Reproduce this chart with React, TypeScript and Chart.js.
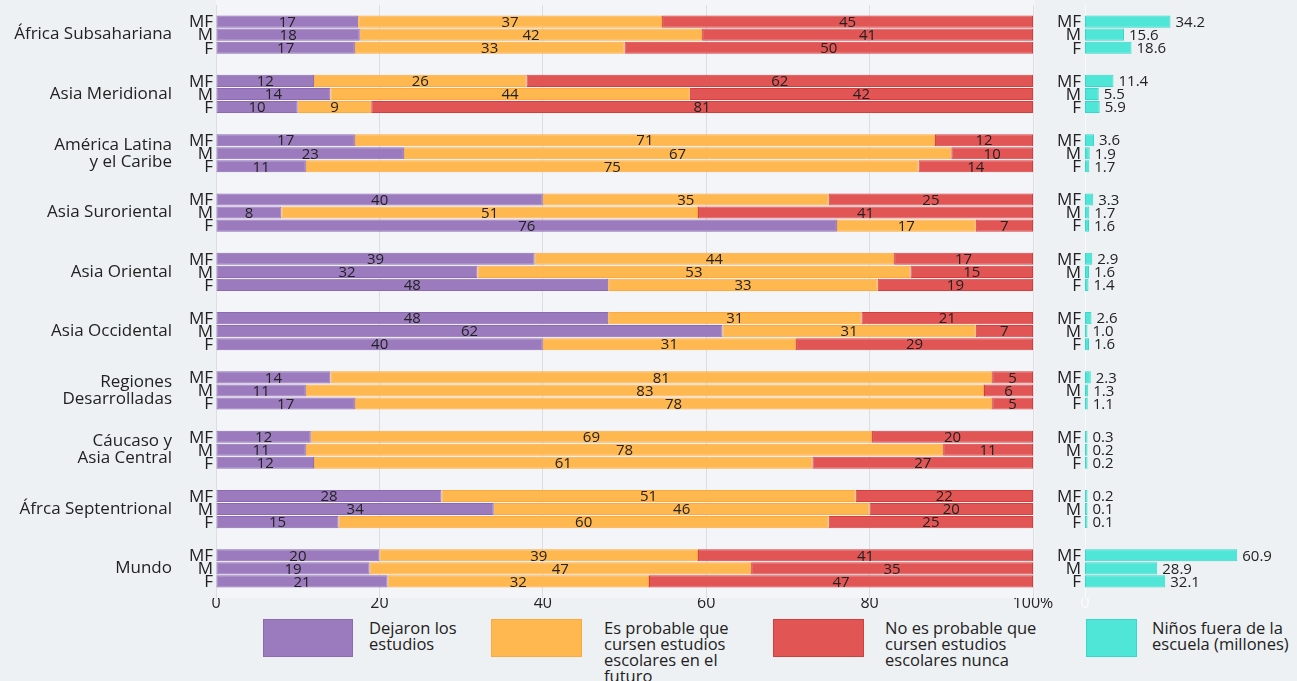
import React, { useEffect, useRef } from 'react';
import { Chart, registerables } from 'chart.js';

Chart.register(...registerables);

const regions: string[][] = [
  ['África Subsahariana'],
  ['Asia Meridional'],
  ['América Latina', 'y el Caribe'],
  ['Asia Suroriental'],
  ['Asia Oriental'],
  ['Asia Occidental'],
  ['Regiones', 'Desarrolladas'],
  ['Cáucaso y', 'Asia Central'],
  ['Áfrca Septentrional'],
  ['Mundo'],
];

const dejaronMF = [17.4, 12, 17, 40, 39, 48, 14, 11.6, 27.6, 20];
const dejaronM = [17.6, 14, 23, 8, 32, 62, 11, 11, 34, 18.8];
const dejaronF = [17, 10, 11, 76, 48, 40, 17, 12, 15, 21];
const futuroMF = [37.2, 26, 71, 35, 44, 31, 81, 68.7, 50.7, 39];
const futuroM = [41.9, 44, 67, 51, 53, 31, 83, 78, 46, 46.7];
const futuroF = [33, 9, 75, 17, 33, 31, 78, 61, 60, 32];
const nuncaMF = [45.4, 62, 12, 25, 17, 21, 5, 19.7, 21.7, 41];
const nuncaM = [40.5, 42, 10, 41, 15, 7, 6, 11, 20, 34.5];
const nuncaF = [50, 81, 14, 7, 19, 29, 5, 27, 25, 47];
const fueraMF = [34.2, 11.4, 3.6, 3.3, 2.9, 2.6, 2.3, 0.3, 0.2, 60.9];
const fueraM = [15.6, 5.5, 1.9, 1.7, 1.6, 1.0, 1.3, 0.2, 0.1, 28.9];
const fueraF = [18.6, 5.9, 1.7, 1.6, 1.4, 1.6, 1.1, 0.2, 0.1, 32.1];
const pctTicks = [0, 20, 40, 60, 80, 100];

const legendItems = [
  { lines: ['Dejaron los', 'estudios'], fill: '#9b7bbd', border: '#8b6ab4', boxLeft: 263, boxW: 90, textLeft: 369 },
  { lines: ['Es probable que', 'cursen estudios', 'escolares en el', 'futuro'], fill: '#ffb74f', border: '#ffa83c', boxLeft: 491, boxW: 91, textLeft: 604 },
  { lines: ['No es probable que', 'cursen estudios', 'escolares nunca'], fill: '#e25555', border: '#d63e3e', boxLeft: 773, boxW: 91, textLeft: 885 },
  { lines: ['Niños fuera de la', 'escuela (millones)'], fill: '#50e6d7', border: '#36d9c9', boxLeft: 1086, boxW: 51, textLeft: 1152 },
];

const FONT = '"Open Sans", "Noto Sans", sans-serif';
const TEXT = '#222';
const PURPLE = ['#9b7bbd', '#8b6ab4'];
const ORANGE = ['#ffb74f', '#ffa83c'];
const RED = ['#e25555', '#d63e3e'];
const TURQ = ['#50e6d7', '#36d9c9'];

const catPct = 0.66;
const barPct = 0.93;

const plotBg = {
  id: 'plotBg',
  beforeDraw(chart: any) {
    const { ctx, chartArea } = chart;
    ctx.save();
    ctx.fillStyle = '#f4f5f9';
    ctx.fillRect(chartArea.left, 0, chartArea.right - chartArea.left + 2, chartArea.bottom);
    ctx.restore();
  },
};

const leftLabels = {
  id: 'leftLabels',
  afterDatasetsDraw(chart: any) {
    const ctx = chart.ctx;
    ctx.save();
    ctx.fillStyle = TEXT;
    ctx.textBaseline = 'middle';
    ctx.textAlign = 'center';
    ctx.font = `15px ${FONT}`;
    chart.data.datasets.forEach((ds: any, i: number) => {
      const meta = chart.getDatasetMeta(i);
      meta.data.forEach((bar: any, j: number) => {
        const { x, base, y } = bar.getProps(['x', 'base', 'y'], true);
        ctx.fillText(String(Math.round(ds.data[j])), (x + base) / 2, y + 1);
      });
    });
    ctx.textAlign = 'right';
    ctx.font = `17px ${FONT}`;
    chart.data.datasets.forEach((ds: any, i: number) => {
      if (ds.segment !== 0) return;
      const meta = chart.getDatasetMeta(i);
      meta.data.forEach((bar: any) => {
        ctx.fillText(ds.stack, chart.chartArea.left - 3, bar.y + 1);
      });
    });
    ctx.restore();
  },
};

const rightLabels = {
  id: 'rightLabels',
  afterDatasetsDraw(chart: any) {
    const ctx = chart.ctx;
    ctx.save();
    ctx.fillStyle = TEXT;
    ctx.textBaseline = 'middle';
    chart.data.datasets.forEach((ds: any, i: number) => {
      const meta = chart.getDatasetMeta(i);
      meta.data.forEach((bar: any, j: number) => {
        ctx.textAlign = 'left';
        ctx.font = `15px ${FONT}`;
        ctx.fillText(ds.data[j].toFixed(1), bar.x + 5, bar.y + 1);
        ctx.textAlign = 'right';
        ctx.font = `17px ${FONT}`;
        ctx.fillText(ds.label, chart.chartArea.left - 4, bar.y + 1);
      });
    });
    ctx.restore();
  },
};

function seg(data: number[], stack: string, segment: number, col: string[], minLen = 0) {
  return {
    label: stack,
    data,
    stack,
    segment,
    backgroundColor: col[0],
    borderColor: col[1],
    borderWidth: 1,
    borderSkipped: false,
    minBarLength: minLen,
    categoryPercentage: catPct,
    barPercentage: barPct,
  } as any;
}

const xTickFont = { family: FONT, size: 16, lineHeight: 1 };

export default function App() {
  const leftRef = useRef<HTMLCanvasElement>(null);
  const rightRef = useRef<HTMLCanvasElement>(null);

  useEffect(() => {
    document.body.style.margin = '0';
    document.body.style.background = '#eef1f3';
    const labels = regions;
    const left = new Chart(leftRef.current!, {
      type: 'bar',
      data: {
        labels: labels as any,
        datasets: [
          seg(dejaronMF, 'MF', 0, PURPLE),
          seg(dejaronM, 'M', 0, PURPLE),
          seg(dejaronF, 'F', 0, PURPLE),
          seg(futuroMF, 'MF', 1, ORANGE),
          seg(futuroM, 'M', 1, ORANGE),
          seg(futuroF, 'F', 1, ORANGE),
          seg(nuncaMF, 'MF', 2, RED),
          seg(nuncaM, 'M', 2, RED),
          seg(nuncaF, 'F', 2, RED),
        ],
      },
      options: {
        indexAxis: 'y',
        responsive: false,
        animation: false,
        layout: { padding: { top: 5, right: 29, bottom: 0, left: 0 } },
        plugins: { legend: { display: false }, tooltip: { enabled: false } },
        scales: {
          x: {
            stacked: true,
            min: 0,
            max: 100,
            grid: { color: '#dcdee3', drawTicks: false },
            border: { display: false },
            afterBuildTicks: (scale: any) => {
              scale.ticks = pctTicks.map((v) => ({ value: v }));
            },
            ticks: {
              font: xTickFont,
              color: TEXT,
              padding: -3,
              maxRotation: 0,
              callback: (v: any) => (v === 100 ? '100%' : String(v)),
            },
          },
          y: {
            stacked: true,
            grid: { display: false, drawTicks: false },
            border: { display: false },
            ticks: { font: { family: FONT, size: 17, lineHeight: 1.0 }, color: TEXT, padding: 44 },
            afterFit: (scale: any) => {
              scale.width = 216;
              scale.paddingTop = 0;
              scale.paddingBottom = 0;
            },
          },
        },
      },
      plugins: [plotBg, leftLabels],
    });

    const right = new Chart(rightRef.current!, {
      type: 'bar',
      data: {
        labels: labels as any,
        datasets: [
          seg(fueraMF, 'MF', 0, TURQ, 2.5),
          seg(fueraM, 'M', 0, TURQ, 2.5),
          seg(fueraF, 'F', 0, TURQ, 2.5),
        ],
      },
      options: {
        indexAxis: 'y',
        responsive: false,
        animation: false,
        layout: { padding: { top: 5, right: 12, bottom: 0, left: 0 } },
        plugins: { legend: { display: false }, tooltip: { enabled: false } },
        scales: {
          x: {
            min: 0,
            max: 80,
            grid: { display: false, drawTicks: false },
            border: { display: false },
            ticks: {
              font: xTickFont,
              color: 'rgba(255,255,255,0.75)',
              padding: -3,
              maxRotation: 0,
              callback: (v: any) => (v === 0 ? '0' : ''),
            },
          },
          y: {
            grid: { display: false, drawTicks: false },
            border: { display: true, color: '#f9fafb', width: 1 },
            ticks: { display: false },
            afterFit: (scale: any) => {
              scale.width = 45;
              scale.paddingTop = 0;
              scale.paddingBottom = 0;
            },
          },
        },
      },
      plugins: [rightLabels],
    });

    return () => {
      left.destroy();
      right.destroy();
    };
  }, []);

  return (
    <div
      style={{
        position: 'fixed',
        left: 0,
        top: 0,
        width: 1297,
        height: 681,
        background: '#eef1f3',
        overflow: 'hidden',
        fontFamily: FONT,
        color: TEXT,
      }}
    >
      <canvas ref={leftRef} width={1062} height={608} style={{ position: 'absolute', left: 0, top: 0 }} />
      <canvas ref={rightRef} width={257} height={608} style={{ position: 'absolute', left: 1040, top: 0 }} />
      {legendItems.map((it, i) => (
        <React.Fragment key={i}>
          <div
            style={{
              position: 'absolute',
              left: it.boxLeft,
              top: 619,
              width: it.boxW - 2,
              height: 36,
              background: it.fill,
              border: `1px solid ${it.border}`,
            }}
          />
          <div
            style={{
              position: 'absolute',
              left: it.textLeft,
              top: 620,
              fontSize: 16.5,
              lineHeight: '16px',
              whiteSpace: 'nowrap',
            }}
          >
            {it.lines.map((l, k) => (
              <div key={k}>{l}</div>
            ))}
          </div>
        </React.Fragment>
      ))}
    </div>
  );
}
